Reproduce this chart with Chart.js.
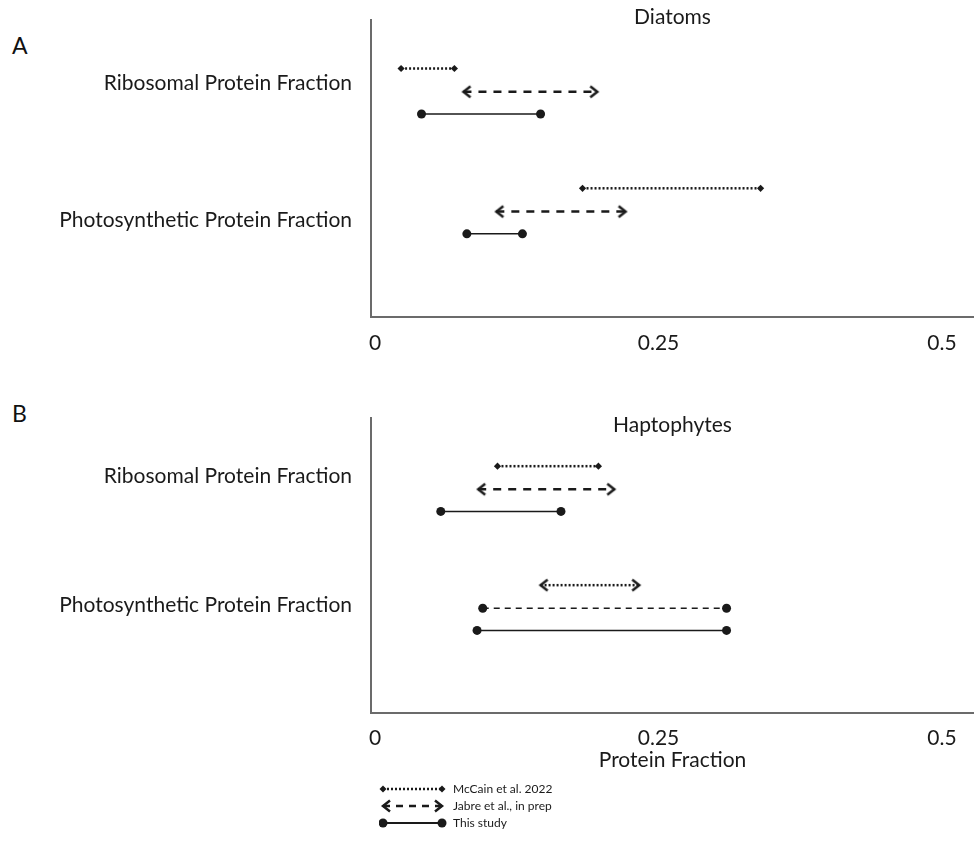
<!DOCTYPE html>
<html>
<head>
<meta charset="utf-8">
<script src="https://cdn.jsdelivr.net/npm/chart.js@4.4.1/dist/chart.umd.min.js"></script>
<style>
  body { margin: 0; background: #fff; font-family: Lato, sans-serif; overflow: hidden; }
  #wrap { position: relative; width: 974px; height: 847px; overflow: hidden; }
  canvas { position: absolute; }
  .letter { position: absolute; left: 12px; font-size: 23px; color: #111; line-height: 1; }
</style>
</head>
<body>
<div id="wrap">
  <div class="letter" style="top:34px">A</div>
  <div class="letter" style="top:402px">B</div>
  <canvas id="chartA" width="980" height="357" style="left:0;top:0"></canvas>
  <canvas id="chartB" width="980" height="373" style="left:0;top:400px"></canvas>
  <canvas id="legendChart" width="220" height="69" style="left:374px;top:778px"></canvas>
</div>
<script>
// categories and sources
const categories = ['Ribosomal Protein Fraction', 'Photosynthetic Protein Fraction'];
const sources = ['McCain et al. 2022', 'Jabre et al., in prep', 'This study'];
const xTicks = [0, 0.25, 0.5];

// [low, high] protein fraction per category (ribosomal, photosynthetic)
const diatomsMcCain = [[0.023, 0.070], [0.183, 0.340]];
const diatomsJabre = [[0.078, 0.196], [0.107, 0.221]];
const diatomsThisStudy = [[0.041, 0.146], [0.081, 0.130]];

const haptoMcCain = [[0.108, 0.197], [0.146, 0.233]];
const haptoJabre = [[0.091, 0.211], [0.095, 0.310]];
const haptoThisStudy = [[0.058, 0.164], [0.090, 0.310]];

// layout of the rows on the hidden y scale
const catPos = [1.45, 3.87];
const rowOffset = [-0.47, 0, 0.45];

const FONT = 'Lato';
const INK = '#1a1a1a';
const AXIS = '#6b6b6b';

// small helper for the end markers
function drawMarker(ctx, kind, x, y) {
  ctx.save();
  ctx.fillStyle = INK;
  ctx.strokeStyle = INK;
  ctx.setLineDash([]);
  if (kind === 'circle') {
    ctx.beginPath(); ctx.arc(x, y, 4.5, 0, Math.PI * 2); ctx.fill();
  } else if (kind === 'diamond') {
    ctx.beginPath();
    ctx.moveTo(x, y - 3.5); ctx.lineTo(x + 3.5, y); ctx.lineTo(x, y + 3.5); ctx.lineTo(x - 3.5, y);
    ctx.closePath(); ctx.fill();
  } else if (kind === 'left' || kind === 'right') {
    const d = kind === 'left' ? 1 : -1;
    ctx.lineWidth = 2.5;
    ctx.beginPath();
    ctx.moveTo(x + d * 7, y - 5.5); ctx.lineTo(x, y); ctx.lineTo(x + d * 7, y + 5.5);
    ctx.stroke();
  }
  ctx.restore();
}

function chevron(kind) {
  const c = document.createElement('canvas');
  c.width = 20; c.height = 16;
  drawMarker(c.getContext('2d'), kind, 10, 8);
  return c;
}
const leftArrow = chevron('left');
const rightArrow = chevron('right');

// line / marker styles
const styles = {
  dottedDiamond: { borderWidth: 2.5, borderDash: [2, 2], pointStyle: 'rectRot', pointRadius: 3.6 },
  dottedArrow: { borderWidth: 2.5, borderDash: [2, 2], pointStyle: [leftArrow, rightArrow], pointRadius: 6 },
  dashedArrow: { borderWidth: 2.5, borderDash: [8, 7], pointStyle: [leftArrow, rightArrow], pointRadius: 6 },
  thinDashedCircle: { borderWidth: 1.5, borderDash: [6, 5], pointStyle: 'circle', pointRadius: 4.5 },
  solidCircle: { borderWidth: 1.5, borderDash: [], pointStyle: 'circle', pointRadius: 4.5 }
};

function rangeDataset(range, cat, src, style) {
  const y = catPos[cat] + rowOffset[src];
  return Object.assign({
    label: sources[src] + ' - ' + categories[cat],
    data: [{ x: range[0], y: y }, { x: range[1], y: y }],
    showLine: true,
    borderColor: INK,
    backgroundColor: INK,
    pointBorderWidth: 0,
    pointHoverRadius: 5,
    borderCapStyle: 'butt',
    tension: 0,
    fill: false
  }, style);
}

function panelOptions(p) {
  return {
    responsive: false,
    animation: false,
    layout: { padding: { top: p.topPad, left: 0, right: 0, bottom: 0 } },
    plugins: { legend: { display: false }, tooltip: { enabled: false } },
    scales: {
      x: {
        type: 'linear',
        min: -0.00353,
        max: 0.5282,
        afterBuildTicks: s => { s.ticks = xTicks.map(v => ({ value: v })); },
        afterFit: s => { s.height = p.bottomHeight; s.paddingLeft = 0; s.paddingRight = 0; },
        grid: { display: false },
        border: { display: true, color: AXIS, width: 2 },
        ticks: { padding: p.tickPad, color: INK, font: { family: FONT, size: 21 }, callback: v => String(v), maxRotation: 0 },
        title: {
          display: !!p.bottomTitle, text: p.bottomTitle || '', color: INK,
          font: { family: FONT, size: 21 }, padding: { top: 0, bottom: 0 }
        }
      },
      xTop: {
        type: 'linear',
        position: 'top',
        grid: { display: false },
        border: { display: false },
        ticks: { display: false },
        afterFit: s => { s.height = p.topHeight; s.paddingLeft = 0; s.paddingRight = 0; },
        title: { display: true, text: p.title, color: INK, font: { family: FONT, size: 21 }, padding: 0 }
      },
      y: {
        type: 'linear',
        reverse: true,
        min: 0,
        max: 6,
        afterBuildTicks: s => { s.ticks = p.labelPos.map(v => ({ value: v })); },
        afterFit: s => { s.width = 371; s.paddingTop = 0; s.paddingBottom = 0; },
        grid: { display: false },
        border: { display: true, color: AXIS, width: 2 },
        ticks: {
          padding: 11, color: INK, font: { family: FONT, size: 21 },
          autoSkip: false, callback: (v, i) => categories[i]
        }
      }
    }
  };
}

// Panel A - Diatoms
new Chart(document.getElementById('chartA'), {
  type: 'scatter',
  data: {
    datasets: [
      rangeDataset(diatomsMcCain[0], 0, 0, styles.dottedDiamond),
      rangeDataset(diatomsJabre[0], 0, 1, styles.dashedArrow),
      rangeDataset(diatomsThisStudy[0], 0, 2, styles.solidCircle),
      rangeDataset(diatomsMcCain[1], 1, 0, styles.dottedDiamond),
      rangeDataset(diatomsJabre[1], 1, 1, styles.dashedArrow),
      rangeDataset(diatomsThisStudy[1], 1, 2, styles.solidCircle)
    ]
  },
  options: panelOptions({
    title: 'Diatoms', bottomTitle: null, topPad: 5, topHeight: 15,
    bottomHeight: 40, tickPad: 6, labelPos: [1.27, 4.04]
  })
});

// Panel B - Haptophytes
new Chart(document.getElementById('chartB'), {
  type: 'scatter',
  data: {
    datasets: [
      rangeDataset(haptoMcCain[0], 0, 0, styles.dottedDiamond),
      rangeDataset(haptoJabre[0], 0, 1, styles.dashedArrow),
      rangeDataset(haptoThisStudy[0], 0, 2, styles.solidCircle),
      rangeDataset(haptoMcCain[1], 1, 0, styles.dottedArrow),
      rangeDataset(haptoJabre[1], 1, 1, styles.thinDashedCircle),
      rangeDataset(haptoThisStudy[1], 1, 2, styles.solidCircle)
    ]
  },
  options: panelOptions({
    title: 'Haptophytes', bottomTitle: 'Protein Fraction', topPad: 13, topHeight: 5,
    bottomHeight: 60, tickPad: 5, labelPos: [1.18, 3.81]
  })
});

// legend samples: line + end markers
const legendLook = [
  { width: 2.5, dash: [2, 2], a: 'diamond', b: 'diamond' },
  { width: 2.5, dash: [7, 6], a: 'left', b: 'right' },
  { width: 2, dash: [], a: 'circle', b: 'circle' }
];
function legendSample(look) {
  const c = document.createElement('canvas');
  c.width = 68; c.height = 14;
  const g = c.getContext('2d');
  g.strokeStyle = INK;
  g.lineWidth = look.width;
  g.setLineDash(look.dash);
  g.beginPath(); g.moveTo(4, 7); g.lineTo(63, 7); g.stroke();
  drawMarker(g, look.a, 4, 7);
  drawMarker(g, look.b, 63, 7);
  return c;
}

new Chart(document.getElementById('legendChart'), {
  type: 'scatter',
  data: { datasets: sources.map(s => ({ label: s, data: [] })) },
  options: {
    responsive: false,
    animation: false,
    layout: { padding: 0 },
    scales: { x: { display: false }, y: { display: false } },
    plugins: {
      tooltip: { enabled: false },
      legend: {
        display: true,
        position: 'top',
        align: 'start',
        maxHeight: 69,
        onClick: null,
        labels: {
          usePointStyle: true,
          pointStyleWidth: 68,
          padding: 5,
          color: INK,
          font: { family: FONT, size: 12 },
          generateLabels: () => sources.map((s, i) => ({
            text: s,
            pointStyle: legendSample(legendLook[i]),
            fillStyle: INK,
            strokeStyle: INK,
            lineWidth: 0,
            hidden: false,
            datasetIndex: i,
            fontColor: INK
          }))
        }
      }
    }
  }
});
</script>
</body>
</html>
